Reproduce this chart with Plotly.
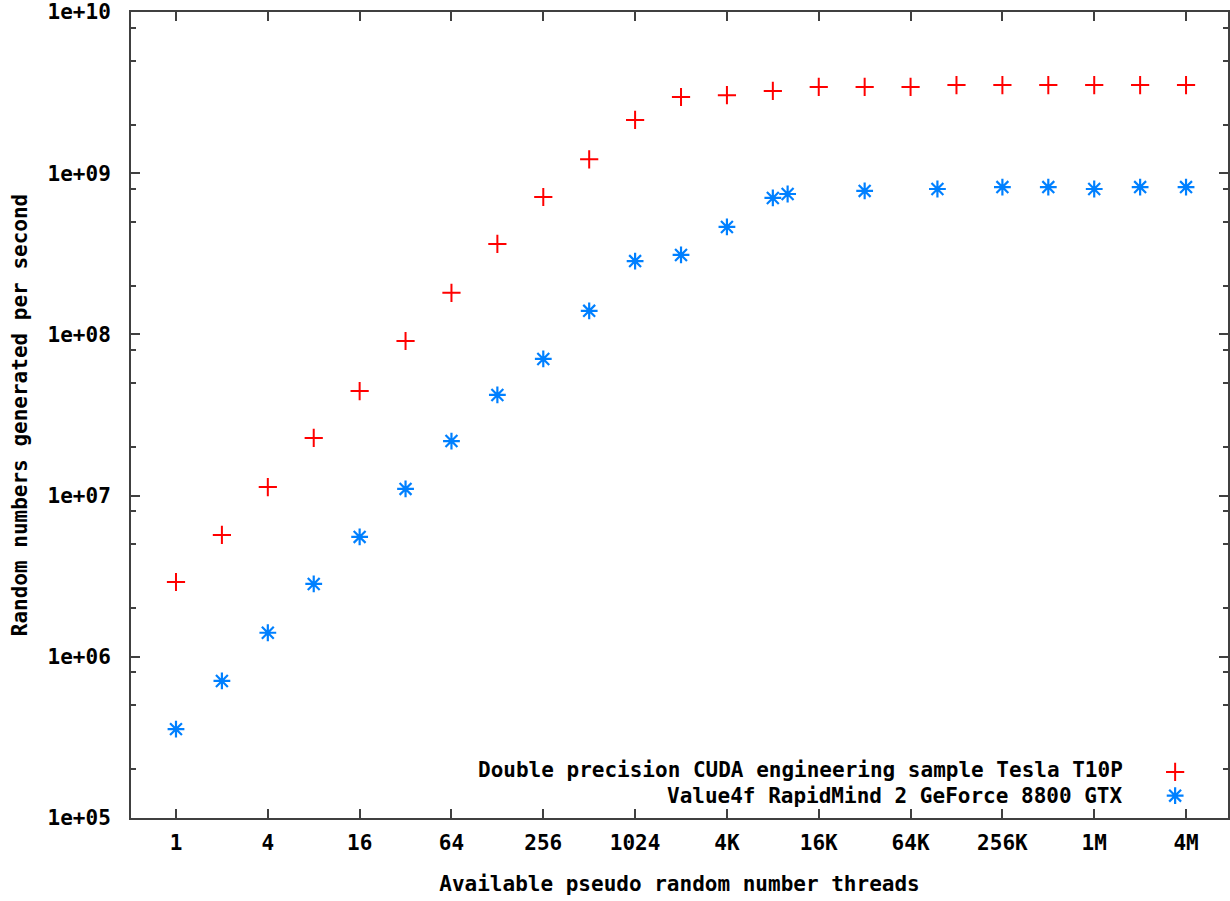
import math
import plotly.graph_objects as go

# ---- data ----
threads_tesla = [2 ** k for k in range(0, 23)]
rate_tesla = [2.91e6, 5.7e6, 1.13e7, 2.28e7, 4.45e7, 9.1e7, 1.81e8, 3.64e8, 7.12e8,
              1.22e9, 2.14e9, 2.97e9, 3.05e9, 3.24e9, 3.43e9, 3.43e9, 3.43e9,
              3.52e9, 3.52e9, 3.52e9, 3.52e9, 3.52e9, 3.52e9]

threads_g80 = [1, 2, 4, 8, 16, 32, 64, 128, 256, 512, 1024, 2048, 4096, 8192,
               10240, 32768, 98304, 262144, 524288, 1048576, 2097152, 4194304]
rate_g80 = [3.56e5, 7.08e5, 1.41e6, 2.83e6, 5.54e6, 1.10e7, 2.18e7, 4.21e7, 7.04e7,
            1.40e8, 2.85e8, 3.11e8, 4.64e8, 7.02e8, 7.43e8, 7.76e8, 7.98e8,
            8.2e8, 8.2e8, 7.98e8, 8.2e8, 8.2e8]

name_tesla = "Double precision CUDA engineering sample Tesla T10P"
name_g80 = "Value4f RapidMind 2 GeForce 8800 GTX"

x_tickvals = [4 ** k for k in range(0, 12)]
x_ticktext = ["1", "4", "16", "64", "256", "1024", "4K", "16K", "64K", "256K", "1M", "4M"]
y_tickvals = [1e5, 1e6, 1e7, 1e8, 1e9, 1e10]
y_ticktext = ["1e+05", "1e+06", "1e+07", "1e+08", "1e+09", "1e+10"]
y_minor = [m * 10 ** e for e in range(5, 10) for m in (2, 5, 8)]

FONT = "DejaVu Sans Mono"
FS = 21
AXC = "#404040"

fig = go.Figure()
fig.add_trace(go.Scatter(
    x=threads_tesla, y=rate_tesla, mode="markers", name=" ",
    marker=dict(symbol="cross-thin", size=13, color="#ff0000",
                line=dict(color="#ff0000", width=2)),
))
fig.add_trace(go.Scatter(
    x=threads_g80, y=rate_g80, mode="markers", name=" ",
    marker=dict(symbol="asterisk-open", size=14, color="#0080ff",
                line=dict(color="#0080ff", width=2.2)),
))

L, R, T, B = 131, 0, 12, 83
W, H = 1230, 901
PW, PH = W - L - R, H - T - B

fig.update_layout(
    width=W, height=H,
    margin=dict(l=L, r=R, t=T, b=B),
    paper_bgcolor="white", plot_bgcolor="white",
    font=dict(family=FONT, size=FS, color="black", weight="bold"),
    showlegend=True,
    legend=dict(x=(1157 - L) / PW, y=(818 - 755) / PH,
                xanchor="left", yanchor="top", bgcolor="rgba(0,0,0,0)",
                font=dict(size=16), tracegroupgap=0),
    xaxis=dict(
        type="log",
        range=[math.log10(2 ** -0.98), math.log10(2 ** 22.914)],
        tickvals=x_tickvals, ticktext=x_ticktext,
        ticks="inside", ticklen=9, tickwidth=1.5, tickcolor=AXC,
        showline=True, linewidth=2, linecolor=AXC, mirror="ticks",
        showgrid=False, zeroline=False,
        tickfont=dict(family=FONT, size=FS, weight="bold"),
        ticklabelstandoff=5,
        title=dict(text="Available pseudo random number threads",
                   font=dict(family=FONT, size=FS, weight="bold"), standoff=22),
    ),
    yaxis=dict(
        type="log", range=[5, 10],
        tickvals=y_tickvals, ticktext=y_ticktext,
        ticks="inside", ticklen=9, tickwidth=1.5, tickcolor=AXC,
        minor=dict(tickvals=y_minor, ticks="inside", ticklen=5, tickwidth=1.5, tickcolor=AXC),
        showline=True, linewidth=2, linecolor=AXC, mirror="ticks",
        showgrid=False, zeroline=False,
        tickfont=dict(family=FONT, size=FS, weight="bold"),
        ticklabelstandoff=14,
        title=dict(text="Random numbers generated per second",
                   font=dict(family=FONT, size=FS, weight="bold"), standoff=14),
    ),
    annotations=[
        dict(text=name_tesla, xref="paper", yref="paper",
             x=(1127 - L) / PW, y=(818 - 770) / PH,
             xanchor="right", yanchor="middle", showarrow=False,
             font=dict(family=FONT, size=FS, weight="bold")),
        dict(text=name_g80, xref="paper", yref="paper",
             x=(1127 - L) / PW, y=(818 - 796) / PH,
             xanchor="right", yanchor="middle", showarrow=False,
             font=dict(family=FONT, size=FS, weight="bold")),
    ],
)

fig.write_html("out.html")
